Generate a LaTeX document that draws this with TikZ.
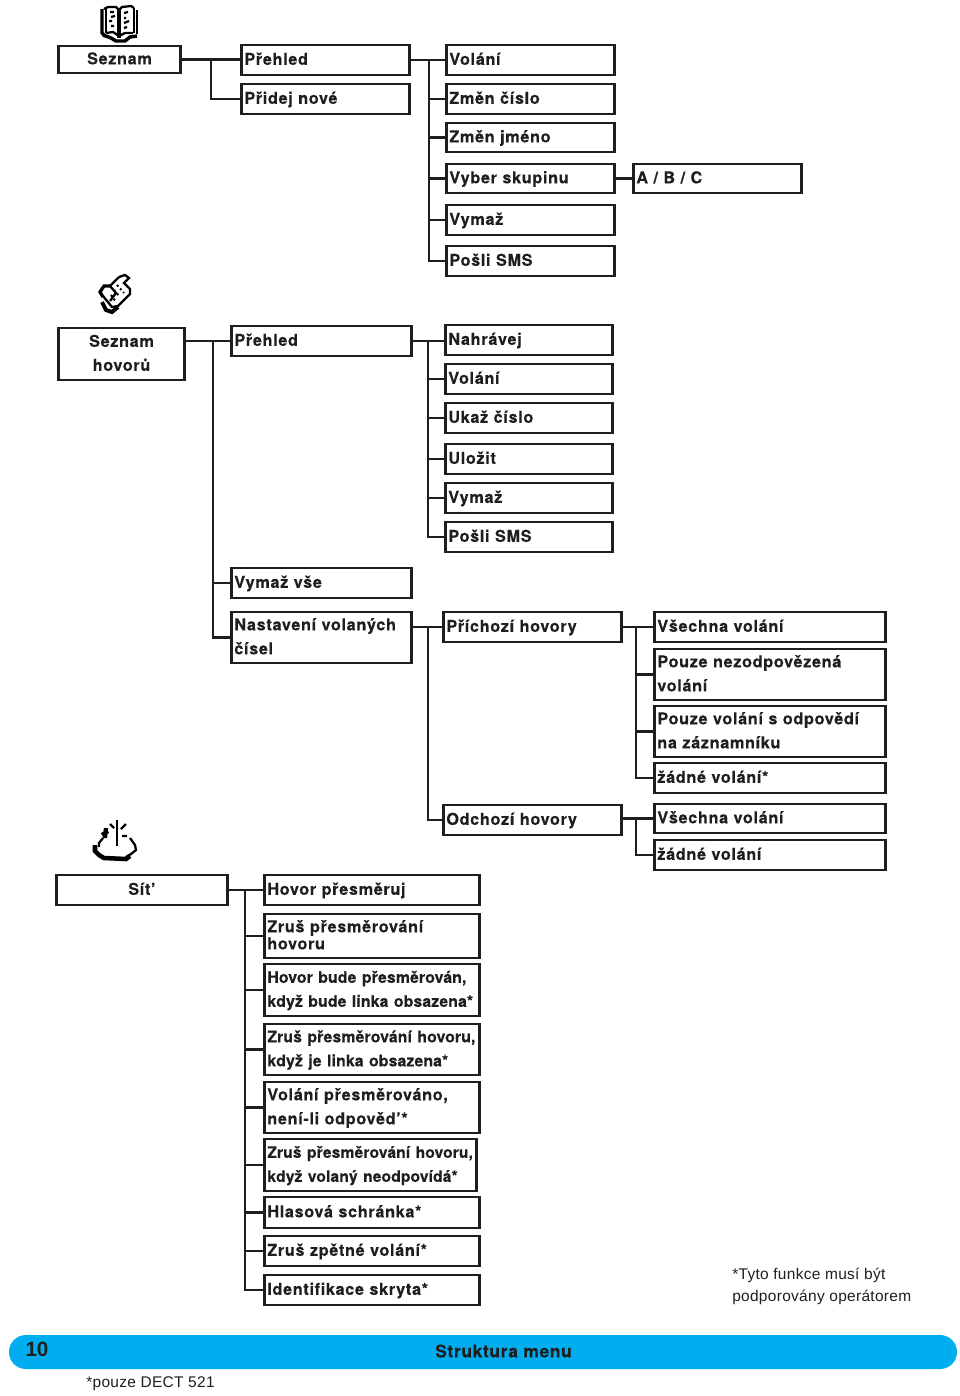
\documentclass[tikz,border=0pt]{standalone}
\usepackage{fontspec}
\setmainfont{Liberation Sans}
\newfontfamily\bxfont[LetterSpace=4,Ligatures=NoCommon,BoldFeatures={FakeBold=0.2}]{TeX Gyre Heros}
\newfontfamily\tightfont[LetterSpace=0.6,Ligatures=NoCommon,BoldFeatures={FakeBold=0.2}]{TeX Gyre Heros}
\newfontfamily\lightfont[LetterSpace=2]{Liberation Sans}
\newcommand{\tgt}{\tightfont\fontsize{11.9}{18}\selectfont}
\definecolor{ink}{HTML}{1E1E1E}
\definecolor{barblue}{HTML}{00AEEF}
\tikzset{
  bxbase/.style={draw=ink,line width=2.2pt,rectangle,outer sep=0pt,inner xsep=2.4pt,inner ysep=0pt,
    text=ink,font=\bxfont\bfseries\fontsize{12.2}{18}\selectfont},
  lbox/.style={bxbase,align=left,anchor=center},
  cbox/.style={bxbase,align=center,anchor=center},
  link/.style={draw=ink,line width=2.2pt,line cap=rect},
  note/.style={text=ink,font=\lightfont\fontsize{11.6}{16.5}\selectfont,align=left,anchor=west,inner sep=0pt},
  icon/.style={draw=black,line width=1.7pt,line cap=square,line join=miter},
}
% [raise], name, x1, y1, x2, y2, text  (pixel coordinates)
\newcommand{\lb}[7][0.8pt]{%
  \pgfmathsetmacro{\bw}{(#5-#3)*0.75}\pgfmathsetmacro{\bh}{(#6-#4)*0.75}%
  \pgfmathsetmacro{\bt}{\bw-5}%
  \node[lbox,minimum height=\bh pt,text width=\bt pt] (#2) at ({(#3+#5)/2},{(#4+#6)/2}) {\raisebox{#1}{\parbox[c]{\bt pt}{\raggedright\strut #7\strut}}};}
\newcommand{\cb}[6]{%
  \pgfmathsetmacro{\bw}{(#4-#2)*0.75}\pgfmathsetmacro{\bh}{(#5-#3)*0.75}%
  \pgfmathsetmacro{\bt}{\bw-5}%
  \node[cbox,minimum height=\bh pt,text width=\bt pt] (#1) at ({(#2+#4)/2},{(#3+#5)/2}) {\raisebox{-0.7pt}{\parbox[c]{\bt pt}{\centering\strut #6\strut}}};}
\begin{document}
\begin{tikzpicture}[x=0.75pt,y=-0.75pt]
\useasboundingbox (0,0) rectangle (960,1396);
\cb{seznam}{58}{46}{181}{73}{Seznam}
\lb{prehledA}{241}{45}{410}{75}{Přehled}
\lb{pridej}{241}{84}{410}{114}{Přidej nové}
\lb{a1}{446}{45}{615}{75}{Volání}
\lb{a2}{446}{84}{615}{114}{Změn číslo}
\lb{a3}{446}{123}{615}{152}{Změn jméno}
\lb{a4}{446}{164}{615}{193}{Vyber skupinu}
\lb{a5}{446}{205}{615}{235}{Vymaž}
\lb{a6}{446}{246}{615}{276}{Pošli SMS}
\lb{abc}{633}{164}{802}{193}{A / B / C}
\cb{hovoru}{58}{328}{185}{380}{Seznam\\hovorů}
\lb{prehledB}{231}{326}{412}{356}{Přehled}
\lb{b1}{445}{325}{613}{355}{Nahrávej}
\lb{b2}{445}{364}{613}{394}{Volání}
\lb{b3}{445}{403}{613}{433}{Ukaž číslo}
\lb{b4}{445}{444}{613}{474}{Uložit}
\lb{b5}{445}{483}{613}{513}{Vymaž}
\lb{b6}{445}{522}{613}{552}{Pošli SMS}
\lb{vse}{231}{568}{412}{598}{Vymaž vše}
\lb[0pt]{nast}{231}{612}{412}{663}{Nastavení volaných\\čísel}
\lb{prich}{443}{612}{622}{642}{Příchozí hovory}
\lb[-0.2pt]{odch}{443}{805}{622}{835}{Odchozí hovory}
\lb{c1}{654}{612}{886}{642}{Všechna volání}
\lb[0pt]{c2}{654}{649}{886}{700}{Pouze nezodpovězená\\volání}
\lb[0pt]{c3}{654}{706}{886}{757}{Pouze volání s odpovědí\\na záznamníku}
\lb{c4}{654}{763}{886}{793}{žádné volání*}
\lb{d1}{654}{804}{886}{833}{Všechna volání}
\lb{d2}{654}{840}{886}{870}{žádné volání}
\cb{sit}{56}{875}{228}{905}{Sít’}
\lb{e1}{264}{875}{480}{905}{Hovor přesměruj}
\lb{e2}{264}{914}{480}{958}{Zruš přesměrování\\[-5.2pt]hovoru}
\lb[-0.7pt]{e3}{264}{964}{480}{1016}{\tgt\mbox{Hovor bude přesměrován,}\\\mbox{když bude linka obsazena*}}
\lb[0pt]{e4}{264}{1024}{480}{1075}{\tgt\mbox{Zruš přesměrování hovoru,}\\\mbox{když je linka obsazena*}}
\lb[0pt]{e5}{264}{1082}{480}{1133}{Volání přesměrováno,\\není-li odpověd’*}
\lb[0pt]{e6}{264}{1139}{477}{1191}{\tightfont\fontsize{11.75}{18}\selectfont\mbox{Zruš přesměrování hovoru,}\\\mbox{když volaný neodpovídá*}}
\lb{e7}{264}{1197}{480}{1228}{Hlasová schránka*}
\lb{e8}{264}{1236}{480}{1266}{Zruš zpětné volání*}
\lb{e9}{264}{1275}{480}{1305}{Identifikace skryta*}
% connectors
\coordinate (t1) at (211,59);
\draw[link] (seznam.east) -- (seznam.east -| prehledA.west);
\draw[link] (t1) |- (pridej.west);
\coordinate (t2) at (429,60);
\draw[link] (prehledA.east) -- (a1.west);
\draw[link] (t2) |- (a6.west);
\foreach \n in {a2,a3,a4,a5} \draw[link] (t2 |- \n.west) -- (\n.west);
\draw[link] (a4.east) -- (abc.west);
\coordinate (t3) at (213,341);
\draw[link] (hovoru.east |- prehledB.west) -- (prehledB.west);
\draw[link] (t3) |- (nast.west);
\draw[link] (t3 |- vse.west) -- (vse.west);
\coordinate (t4) at (428,341);
\draw[link] (prehledB.east) -- (prehledB.east -| b1.west);
\draw[link] (t4) |- (b6.west);
\foreach \n in {b2,b3,b4,b5} \draw[link] (t4 |- \n.west) -- (\n.west);
\coordinate (t5) at (428,627);
\draw[link] (nast.east |- prich.west) -- (prich.west);
\draw[link] (t5) |- (odch.west);
\coordinate (t6) at (636,627);
\draw[link] (prich.east) -- (c1.west);
\draw[link] (t6) |- (c4.west);
\foreach \n in {c2,c3} \draw[link] (t6 |- \n.west) -- (\n.west);
\coordinate (t7) at (636,819);
\draw[link] (odch.east |- d1.west) -- (d1.west);
\draw[link] (t7) |- (d2.west);
\coordinate (t8) at (245,890);
\draw[link] (sit.east) -- (e1.west);
\draw[link] (t8) |- (e9.west);
\foreach \n in {e2,e3,e4,e5,e6,e7,e8} \draw[link] (t8 |- \n.west) -- (\n.west);
% notes
\node[note] (n1) at (732,1286) {*Tyto funkce musí být\\podporovány operátorem};
% bar
\fill[barblue,rounded corners=12.7pt] (9,1335) rectangle (957,1369);
\node[text=ink,font=\bfseries\fontsize{15.5}{18}\selectfont,inner sep=0pt] (pg) at (37,1349) {10};
\node[text=ink,font=\bxfont\bfseries\fontsize{13}{16}\selectfont,inner sep=0pt] (st) at (503.5,1351) {Struktura menu};
\node[note] (n2) at (86,1384) {*pouze DECT 521};
% book icon
\begin{scope}[icon]
\draw (104,9) -- (108,7) -- (116,7) -- (119,10) -- (122,7) -- (131,6) -- (134,8);
\draw[line width=2.6pt] (102,9) -- (102,33) -- (104,35);
\draw (106,8) -- (106,33);
\draw (106,33) -- (113,32) -- (119,36) -- (125,33) -- (133,33);
\draw (134,8) -- (134,33);
\draw (137,10) -- (137,34);
\draw (118,10) -- (118,38) (120,10) -- (120,38);
\draw[line width=2.6pt] (103,35) -- (111,38) -- (116,41) -- (125,41) -- (130,37) -- (137,36);
\draw (110,12) -- (114,12) (111,17) -- (115,16) (109,21) -- (112,21) (111,26) -- (114,26);
\draw (124,13) -- (128,12) (124,18) -- (126,18) (124,23) -- (129,21) (124,28) -- (127,27);
\end{scope}
% phone icon
\begin{scope}[icon]
\draw (119,277) -- (125,275) -- (129,278) -- (124,283) -- (130,289) -- (130,294) -- (118,306) -- (112,307) -- (103,296);
\draw (119,277) -- (110,286);
\draw[line width=2.4pt] (110,286) -- (104,286) -- (100,292) -- (103,297);
\draw (110,286) -- (116,293) -- (110,301);
\draw[line width=3pt] (102,302) -- (106,310) -- (112,312) -- (118,307);
\draw[dotted,line width=1.5pt] (117,285) -- (124,293) (114,290) -- (120,297) (111,295) -- (116,302);
\end{scope}
% network icon
\begin{scope}[icon]
\draw (117,820) -- (117,846);
\draw (110,824) -- (114,828) (126,824) -- (121,829);
\draw[line width=3.2pt] (102,835) -- (108,831) (106,828) -- (105,838);
\draw (122,836) -- (127,836) (130,838) -- (135,845) -- (136,850) -- (131,854) -- (126,857);
\draw (103,838) -- (99,843) -- (99,847);
\draw[line width=3.4pt] (95,845) -- (95,851) -- (99,855) -- (104,858) -- (126,859) -- (130,856);
\end{scope}
\end{tikzpicture}
\end{document}
